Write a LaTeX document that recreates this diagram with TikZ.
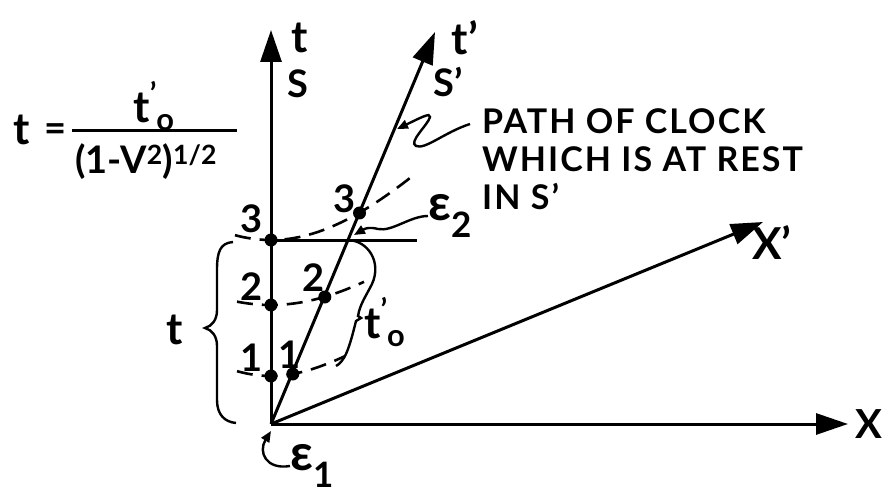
\documentclass[tikz,border=0pt]{standalone}
\usepackage{fontspec}
\setmainfont{Lato}
\usetikzlibrary{arrows.meta,calc}
\newcommand{\tpo}{t\raisebox{0.42em}{\fontsize{30}{30}\selectfont’}\textsubscript{o}}
\begin{document}
\begin{tikzpicture}[x=1pt,y=-1pt,
  axis/.style={line width=3pt,-{Triangle[length=32pt,width=21pt]}},
  hyp/.style={line width=2.6pt,dash pattern=on 16pt off 9pt},
  dotnode/.style={circle,fill=black,inner sep=0pt,minimum size=13pt},
  lbl/.style={font=\fontsize{38}{42}\selectfont\bfseries,inner sep=0pt},
  big/.style={font=\fontsize{44}{48}\selectfont\bfseries,inner sep=0pt},
  eps/.style={font=\fontsize{50}{54}\selectfont\bfseries,inner sep=0pt},
  note/.style={font=\fontsize{34}{38}\selectfont\bfseries\addfontfeature{LetterSpace=6},inner sep=0pt,anchor=west},
  pointer/.style={line width=2.4pt,-{Triangle[length=11pt,width=9pt]}},
  brace/.style={line width=2.4pt}]
\useasboundingbox (0,0) rectangle (885,494);
% axes
\coordinate (O) at (271,424);
\coordinate (tT) at (271,30);
\coordinate (tpT) at (435,32);
\coordinate (xT) at (848,424);
\coordinate (xpT) at (763,222);
\draw[axis] (O) -- (tT);
\draw[axis] (O) -- (tpT);
\draw[axis] (O) -- (xT);
\draw[axis] (O) -- (xpT);
% axis labels
\node[big] (lt) at (300,38) {t};
\node[lbl] (lS) at (298,84) {S};
\node[big] (ltp) at (465,38) {t’};
\node[lbl] (lSp) at (448,82) {S’};
\node[font=\fontsize{40}{44}\selectfont\bfseries,inner sep=0pt] (lX) at (869,424) {X};
\node[big] (lXp) at (772,243) {X’};
% calibration curves
\draw[hyp] plot[domain=-34:74,samples=40,smooth] ({271+\x},{424-100*sqrt(0.48*0.48+0.42*(\x/100)*(\x/100))});
\draw[hyp] plot[domain=-34:93,samples=40,smooth] ({271+\x},{424-100*sqrt(1.19*1.19+0.70*(\x/100)*(\x/100))});
\draw[hyp] plot[domain=-36:140,samples=50,smooth] ({271+\x},{424-100*sqrt(1.84*1.84+1.38*(\x/100)*(\x/100))});
% simultaneity line in S
\coordinate (hR) at (417,240);
\node[dotnode] (a3) at (271,240) {};
\draw[line width=3pt] (a3.center) -- (hR);
% events
\node[dotnode] (a2) at (271,305) {};
\node[dotnode] (a1) at (271,376) {};
\node[dotnode] (b3) at (359.5,213) {};
\node[dotnode] (b2) at (324.8,297) {};
\node[dotnode] (b1) at (292.8,374) {};
\coordinate (E2) at (348.5,240);
% numbers
\node[lbl] (n3) at (252,219) {3};
\node[lbl] (n2) at (252,287) {2};
\node[lbl] (n1) at (252,358) {1};
\node[lbl] (m3) at (345,199) {3};
\node[lbl] (m2) at (314,278) {2};
\node[lbl] (m1) at (290,355) {1};
% braces
\draw[brace] (233,242) .. controls (220,243) and (217,252) .. (217,270) -- (217,310)
  .. controls (217,320) and (212,326) .. (205,328) .. controls (212,330) and (217,336) .. (217,346)
  -- (217,400) .. controls (217,415) and (225,422) .. (236,423);
\node[big] (tb) at (175,330) {t};
\draw[brace] (E2) .. controls (368,241) and (382,262) .. (372,284)
  .. controls (366,296) and (360,304) .. (358,316) -- (361,318) -- (356,321)
  .. controls (353,333) and (350,345) .. (346,354) .. controls (343,360) and (340,364) .. (336,366);
\node[big,anchor=west] (tpb) at (364,322) {\tpo};
% formula
\node[big] (ft) at (22,130) {t};
\node[lbl] (feq) at (56,133) {=};
\draw[line width=3pt] (72,131) -- (237,131);
\node[big] (fnum) at (154,106) {\tpo};
\node[font=\fontsize{38}{42}\selectfont\bfseries,inner sep=0pt] (fden) at (146,162) {(1-V\textsuperscript{2})\textsuperscript{1/2}};
% event labels
\node[eps] (e1) at (312,466) {ε\textsubscript{1}};
\node[eps] (e2) at (450,216) {ε\textsubscript{2}};
\draw[pointer] (e1.west) .. controls (266,470) and (258,452) .. (271,431);
\draw[pointer] (e2.west) .. controls (410,216) and (392,232) .. (378,229) .. controls (370,227) and (366,228) .. (354,235);
% path of clock note
\node[note] (p1) at (482,121) {PATH OF CLOCK};
\node[note] (p2) at (482,159) {WHICH IS AT REST};
\node[note] (p3) at (482,197) {IN S’};
\draw[pointer] (470,124) .. controls (445,132) and (425,150) .. (416,146)
  .. controls (408,142) and (428,125) .. (430,117) .. controls (431,112) and (420,118) .. (397,129);
\end{tikzpicture}
\end{document}
